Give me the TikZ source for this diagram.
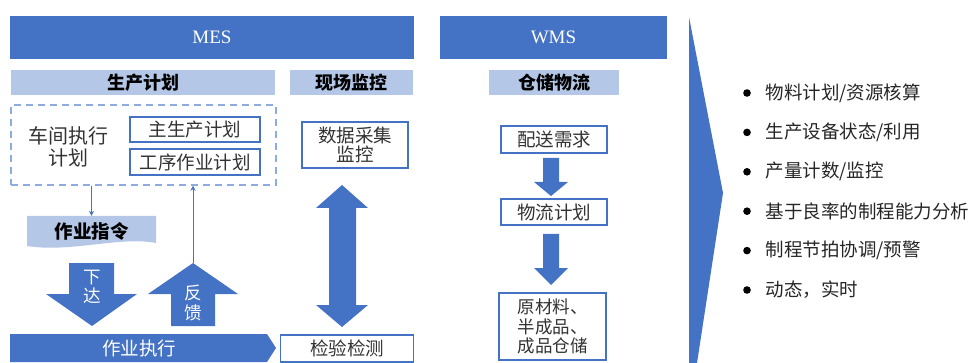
\documentclass[tikz,border=0pt]{standalone}
\usepackage{fontspec}
\setmainfont{Liberation Serif}
\newfontfamily\cjk{Noto Sans CJK SC}
\usetikzlibrary{arrows.meta}
\definecolor{mblue}{HTML}{4472C4}
\definecolor{lblue}{HTML}{B4C7E7}
\definecolor{dblue}{HTML}{8FAADC}

\begin{document}
\begin{tikzpicture}[x=1pt,y=-1pt,
	sysbar/.style={fill=mblue, text=white, minimum height=43, font=\fontsize{19}{22}\selectfont},
	headbar/.style={fill=lblue, minimum height=25, inner sep=0, font=\cjk\bfseries\fontsize{18}{20}\selectfont},
	txtbox/.style={draw=mblue, line width=1.5, fill=white, inner sep=1, font=\cjk\fontsize{18.5}{20}\selectfont, text=black!80},
	thin/.style={draw=mblue, line width=0.6, -{Stealth[length=5,width=5]}}
]
\useasboundingbox (0,0) rectangle (976,363);

% system bars
\node[sysbar, minimum width=404] (mes) at (212,37.5) {MES};
\node[sysbar, minimum width=227] (wms) at (553.5,37.5) {WMS};
\node[headbar, minimum width=264] (plan) at (143,82.5) {生产计划};
\node[headbar, minimum width=123] (mon) at (351.5,82.5) {现场监控};
\node[headbar, minimum width=130] (store) at (554,82.5) {仓储物流};

% MES part
\node[draw=dblue, dashed, line width=1.5, dash pattern=on 7 off 5, minimum width=265, minimum height=80] (grp) at (143.5,145) {};
\node[font=\cjk\fontsize{20}{21.5}\selectfont, text=black!80, align=center] (shop) at (68,147) {车间执行\\计划};
\node[txtbox, minimum width=130, minimum height=25] (master) at (195,129.5) {主生产计划};
\node[txtbox, minimum width=130, minimum height=26] (proc) at (195,162) {工序作业计划};
\node[txtbox, minimum width=106, minimum height=46, align=center, font=\cjk\fontsize{18.5}{19.5}\selectfont] (collect) at (355,145) {数据采集\\监控};

\fill[lblue] (27,216) -- (156,216) -- (156,243) .. controls (120,236) and (70,253) .. (27,246) -- cycle;
\node[font=\cjk\bfseries\fontsize{18.5}{20}\selectfont, minimum width=129, minimum height=30] (order) at (91.5,231) {作业指令};
\draw[thin] (grp.south -| order.north) -- (order.north);

% block arrows
\fill[mblue] (69,263) -- (114,263) -- (114,294) -- (137,294) -- (92,326) -- (46,294) -- (69,294) -- cycle;
\node[text=white, font=\cjk\fontsize{17.5}{19.5}\selectfont, align=center] (down) at (92,287) {下\\达};
\fill[mblue] (171,326) -- (215,326) -- (215,294) -- (238,294) -- (193,263) -- (148,294) -- (171,294) -- cycle;
\coordinate (fbtip) at (193,263);
\node[text=white, font=\cjk\fontsize{17.5}{19.5}\selectfont, align=center] (back) at (193,303) {反\\馈};
\draw[thin] (fbtip) -- (fbtip |- grp.south);

\fill[mblue] (10,334) -- (267,334) -- (276,348) -- (267,362) -- (10,362) -- cycle;
\node[text=white, font=\cjk\fontsize{18.5}{20}\selectfont] (exec) at (139,348) {作业执行};
\node[txtbox, minimum width=133, minimum height=27] (check) at (347,348.5) {检验检测};
\fill[mblue] (342,185) -- (368,208) -- (356,208) -- (356,305) -- (368,305) -- (342,327)
	-- (316,305) -- (329,305) -- (329,208) -- (316,208) -- cycle;

% WMS part
\node[txtbox, minimum width=106, minimum height=27] (deliv) at (554,139.5) {配送需求};
\node[txtbox, minimum width=106, minimum height=26] (lplan) at (554,212) {物流计划};
\node[txtbox, minimum width=107, minimum height=67, align=left, font=\cjk\fontsize{17.5}{19.5}\selectfont] (stock) at (552.5,326.5) {原材料、\\半成品、\\成品仓储};
\fill[mblue] (543,158) -- (559,158) -- (559,182) -- (568,182) -- (551,196) -- (534,182) -- (543,182) -- cycle;
\fill[mblue] (543,234) -- (559,234) -- (559,268) -- (568,268) -- (551,285) -- (534,268) -- (543,268) -- cycle;

% big arrow and list
\fill[mblue] (689,17) -- (723,193) -- (697,363) -- (689,363) -- cycle;
\foreach \t [count=\i from 0] in {物料计划/资源核算, 生产设备状态/利用, 产量计数/监控, 基于良率的制程能力分析, 制程节拍协调/预警, 动态，实时} {
	\fill (747,93+39.4*\i) circle (3.8);
	\node[anchor=west, font=\cjk\fontsize{18.5}{20}\selectfont, text=black!85] (item\i) at (762,93+39.4*\i) {\t};
}
\end{tikzpicture}
\end{document}
